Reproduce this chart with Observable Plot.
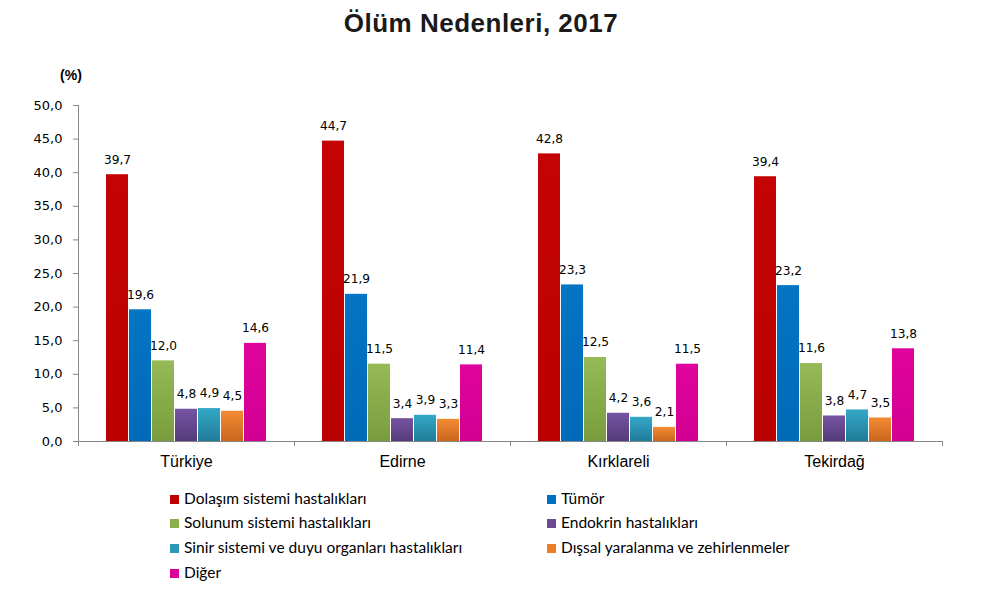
<!DOCTYPE html>
<html><head><meta charset="utf-8">
<script src="https://cdn.jsdelivr.net/npm/d3@7"></script>
<script src="https://cdn.jsdelivr.net/npm/@observablehq/plot@0.6"></script>
<style>
body{margin:0;background:#fff;width:985px;height:597px;position:relative;overflow:hidden}
#title{position:absolute;left:0;top:10px;width:962px;text-align:center;font:bold 26px "Liberation Sans",Arial,sans-serif;letter-spacing:0.5px;line-height:26px;color:#1a1a1a}
#unit{position:absolute;left:50px;width:42px;top:66px;text-align:center;font:bold 14px "Liberation Sans",Arial,sans-serif;line-height:18px;color:#000}
#chart{position:absolute;left:0;top:50px}
.li{position:absolute;font:15.5px Lato,sans-serif;line-height:18px;color:#000;white-space:nowrap}
.li span{display:inline-block;width:9px;height:9px;margin-right:5px;vertical-align:0px}
</style></head><body>
<div id="title">Ölüm Nedenleri, 2017</div>
<div id="unit">(%)</div>
<div id="chart"></div>
<div id="legend"></div>
<script>
const regions = ["Türkiye", "Edirne", "Kırklareli", "Tekirdağ"];
const causes = [
  "Dolaşım sistemi hastalıkları",
  "Tümör",
  "Solunum sistemi hastalıkları",
  "Endokrin hastalıkları",
  "Sinir sistemi ve duyu organları hastalıkları",
  "Dışsal yaralanma ve zehirlenmeler",
  "Diğer"
];
const colors = ["#C00000", "#0070C0", "#8DB04C", "#6A4B94", "#2B98B8", "#EC7E28", "#DD0099"];
const colorsTop = ["#C40404", "#0474C4", "#95BA56", "#7554A2", "#35A8C8", "#F58C34", "#E0039E"];
const colorsBottom = ["#BA0000", "#006AB8", "#7A9C3E", "#553B7A", "#1F7C98", "#C8661C", "#D10092"];
const turkiye = [39.7, 19.6, 12.0, 4.8, 4.9, 4.5, 14.6];
const edirne = [44.7, 21.9, 11.5, 3.4, 3.9, 3.3, 11.4];
const kirklareli = [42.8, 23.3, 12.5, 4.2, 3.6, 2.1, 11.5];
const tekirdag = [39.4, 23.2, 11.6, 3.8, 4.7, 3.5, 13.8];
const yTicks = [0, 5, 10, 15, 20, 25, 30, 35, 40, 45, 50];

const series = [turkiye, edirne, kirklareli, tekirdag];
const data = [];
regions.forEach((r, ri) => causes.forEach((c, ci) => data.push({region: r, cause: c, value: series[ri][ci]})));

const fmt = v => d3.format(".1f")(v).replace(".", ",");

const chart = Plot.plot({
  width: 985, height: 430,
  marginTop: 55, marginBottom: 39, marginLeft: 78, marginRight: 43,
  style: {fontFamily: "'DejaVu Sans', sans-serif", fontSize: "12px", color: "#000", background: "transparent"},
  fx: {domain: regions, padding: 0, label: null, axis: null},
  x: {domain: causes, axis: null, paddingInner: 0.06, paddingOuter: 1.197},
  y: {domain: [0, 50], axis: null},
  color: {domain: causes, range: causes.map((c, i) => `url(#grad${i})`)},
  marks: [
    Plot.barY(data, {fx: "region", x: "cause", y: "value", fill: "cause"}),
    Plot.text(data, {fx: "region", x: "cause", y: "value", text: d => fmt(d.value), dy: -15, lineAnchor: "middle", fontSize: 12.2, fill: "#000"}),
    Plot.ruleY([0], {stroke: "#868686", strokeWidth: 1}),
    Plot.axisY({ticks: yTicks, tickFormat: fmt, tickSize: 5, tickPadding: 11, label: null, stroke: "#868686", fill: "#000", fontSize: 13}),
    Plot.axisFx({anchor: "bottom", tickSize: 0, tickPadding: 14, label: null, fontSize: 16, fontFamily: "'Liberation Sans', Arial, sans-serif", fill: "#000"})
  ]
});

const svg = d3.select(chart);
const defs = svg.insert("defs", ":first-child");
causes.forEach((c, i) => {
  const g = defs.append("linearGradient").attr("id", `grad${i}`).attr("x1", 0).attr("y1", 0).attr("x2", 0).attr("y2", 1);
  g.append("stop").attr("offset", "0%").attr("stop-color", colorsTop[i]);
  g.append("stop").attr("offset", "100%").attr("stop-color", colorsBottom[i]);
});

const fx = chart.scale("fx");
const y = chart.scale("y");
const y0 = y.apply(0), y50 = y.apply(50);
const bounds = regions.map(r => fx.apply(r));
bounds.push(fx.apply(regions[regions.length - 1]) + fx.bandwidth);
const extra = svg.append("g").attr("stroke", "#868686").attr("stroke-width", 1);
extra.append("line").attr("x1", bounds[0] + 0.5).attr("x2", bounds[0] + 0.5).attr("y1", y50).attr("y2", y0);
bounds.forEach(b => {
  extra.append("line").attr("x1", b + 0.5).attr("x2", b + 0.5).attr("y1", y0).attr("y2", y0 + 5);
});

document.getElementById("chart").appendChild(chart);

// Legend
const legend = document.getElementById("legend");
const colLeft = [170, 547];
const rowCenter = [498, 522, 547, 572];
causes.forEach((c, i) => {
  const div = document.createElement("div");
  div.className = "li";
  div.style.left = colLeft[i % 2] + "px";
  div.style.top = (rowCenter[Math.floor(i / 2)] - 9) + "px";
  const sw = document.createElement("span");
  sw.style.background = colors[i];
  div.appendChild(sw);
  div.appendChild(document.createTextNode(c));
  legend.appendChild(div);
});
</script>
</body></html>
